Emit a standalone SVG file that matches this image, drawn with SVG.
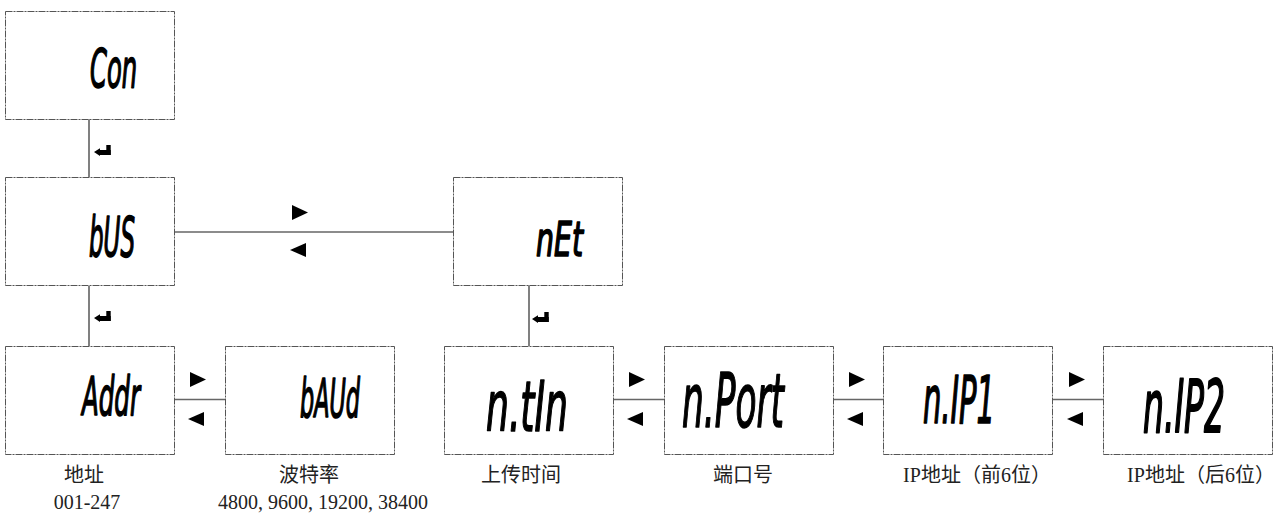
<svg xmlns="http://www.w3.org/2000/svg" xmlns:xlink="http://www.w3.org/1999/xlink" width="1280" height="514" viewBox="0 0 1280 514">
<style>
.box{fill:#fff;stroke:#555;stroke-width:1;stroke-dasharray:7 1 2 1}
.seg{font-family:"DejaVu Sans Condensed","DejaVu Sans",sans-serif;font-weight:normal;font-style:oblique;fill:#000;stroke:#000;stroke-width:1.6;stroke-linejoin:round}
.lbl{font-family:"Liberation Serif","Noto Sans CJK SC",serif;font-size:20px;fill:#222;text-anchor:middle}
.ln{stroke:#666;stroke-width:1.5;fill:none}
.vl{stroke:#808080;stroke-width:2;fill:none}
</style>
<defs>
<g id="enter"><rect x="12.3" y="0" width="4.4" height="10"/><rect x="5" y="5" width="11.7" height="5"/><polygon points="0,7 6,3.3 6,11"/></g>
<polygon id="rt" points="0,0 16,7.5 0,15"/>
<polygon id="lt" points="16,0 0,7 16,14"/>
</defs>
<rect width="1280" height="514" fill="#fff"/>
<g id="connectors">
<line class="vl" x1="89" y1="119" x2="89" y2="177"/>
<line class="vl" x1="89" y1="286" x2="89" y2="346"/>
<line class="vl" x1="529" y1="285" x2="529" y2="346"/>
<line class="ln" x1="174" y1="232" x2="453" y2="232"/>
<line class="ln" x1="174" y1="399.5" x2="225" y2="399.5"/>
<line class="ln" x1="613" y1="399.5" x2="664" y2="399.5"/>
<line class="ln" x1="833" y1="399.5" x2="883" y2="399.5"/>
<line class="ln" x1="1053" y1="399.5" x2="1103" y2="399.5"/>
<use xlink:href="#enter" x="94" y="145"/>
<use xlink:href="#enter" x="94" y="311"/>
<use xlink:href="#enter" x="532" y="312"/>
<use xlink:href="#rt" x="292" y="205"/>
<use xlink:href="#lt" x="290" y="243"/>
<use xlink:href="#rt" x="190" y="372"/>
<use xlink:href="#lt" x="188" y="412"/>
<use xlink:href="#rt" x="629" y="372"/>
<use xlink:href="#lt" x="627" y="412"/>
<use xlink:href="#rt" x="849" y="372"/>
<use xlink:href="#lt" x="847" y="412"/>
<use xlink:href="#rt" x="1069" y="372"/>
<use xlink:href="#lt" x="1067" y="412"/>
</g>
<g id="n-con"><rect class="box" x="5.5" y="11.5" width="169" height="108"/><text class="seg" x="90" y="87" font-size="54" textLength="47" lengthAdjust="spacingAndGlyphs">Con</text></g>
<g id="n-bus"><rect class="box" x="5.5" y="177.5" width="169" height="108"/><text class="seg" x="89" y="256" font-size="56" textLength="46" lengthAdjust="spacingAndGlyphs">bUS</text></g>
<g id="n-net"><rect class="box" x="453.5" y="177.5" width="169" height="108"/><text class="seg" x="536" y="256" font-size="48" textLength="47" lengthAdjust="spacingAndGlyphs">nEt</text></g>
<g id="n-addr"><rect class="box" x="5.5" y="346.5" width="169" height="108"/><text class="seg" x="82" y="415" font-size="54" textLength="58" lengthAdjust="spacingAndGlyphs">Addr</text>
<text class="lbl" x="84" y="482">地址</text><text class="lbl" x="87" y="509">001-247</text></g>
<g id="n-baud"><rect class="box" x="225.5" y="346.5" width="169" height="108"/><text class="seg" x="300" y="417" font-size="54" textLength="60" lengthAdjust="spacingAndGlyphs">bAUd</text>
<text class="lbl" x="309" y="482">波特率</text><text class="lbl" x="323" y="509">4800, 9600, 19200, 38400</text></g>
<g id="n-ntin"><rect class="box" x="444.5" y="346.5" width="169" height="108"/><text class="seg" x="486" y="431" font-size="70" textLength="82" lengthAdjust="spacingAndGlyphs">n.tIn</text>
<text class="lbl" x="521" y="482">上传时间</text></g>
<g id="n-nport"><rect class="box" x="664.5" y="346.5" width="169" height="108"/><text class="seg" x="682" y="427" font-size="74" textLength="102" lengthAdjust="spacingAndGlyphs">n.Port</text>
<text class="lbl" x="743" y="482">端口号</text></g>
<g id="n-nip1"><rect class="box" x="883.5" y="346.5" width="169" height="108"/><text class="seg" x="923" y="423" font-size="66" textLength="72" lengthAdjust="spacingAndGlyphs">n.IP1</text>
<text class="lbl" x="977" y="482">IP地址（前6位）</text></g>
<g id="n-nip2"><rect class="box" x="1103.5" y="346.5" width="169" height="108"/><text class="seg" transform="translate(1143,432) scale(1,1.25)" x="0" y="0" font-size="58" textLength="82" lengthAdjust="spacingAndGlyphs">n.IP2</text>
<text class="lbl" x="1201" y="482">IP地址（后6位）</text></g>
</svg>
